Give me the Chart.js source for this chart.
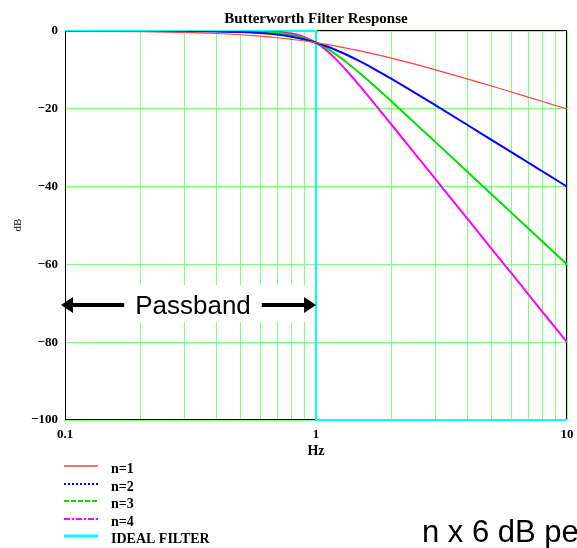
<!DOCTYPE html>
<html>
<head>
<meta charset="utf-8">
<script src="https://cdn.jsdelivr.net/npm/chart.js@4.4.0/dist/chart.umd.min.js"></script>
<style>
  html, body { margin: 0; padding: 0; background: #fff; }
</style>
</head>
<body>
<canvas id="grafico" width="577" height="548"></canvas>
<script>
// datos
const frecuencias = [0.1, 0.2, 0.3, 0.4, 0.5, 0.6, 0.7, 0.8, 0.9, 1, 1.1, 1.2, 1.35, 1.5, 1.75, 2, 2.5, 3, 4, 5, 6, 7, 8, 9, 10];
const dbN1 = [-0.04, -0.17, -0.37, -0.64, -0.97, -1.34, -1.73, -2.15, -2.56, -3.01, -3.44, -3.87, -4.51, -5.12, -6.09, -6.99, -8.6, -10.0, -12.3, -14.15, -15.68, -16.99, -18.13, -19.14, -20.04];
const dbN2 = [0, -0.01, -0.04, -0.11, -0.26, -0.53, -0.93, -1.49, -2.19, -3.01, -3.92, -4.88, -6.36, -7.83, -10.16, -12.3, -16.03, -19.14, -24.1, -27.97, -31.13, -33.81, -36.12, -38.17, -40.0];
const dbN3 = [0, 0, 0, -0.02, -0.07, -0.2, -0.48, -1.01, -1.85, -3.01, -4.43, -6.0, -8.48, -10.93, -14.73, -18.13, -23.89, -28.63, -36.12, -41.94, -46.69, -50.71, -54.19, -57.25, -60.0];
const dbN4 = [0, 0, 0, 0, -0.02, -0.07, -0.24, -0.67, -1.56, -3.01, -4.97, -7.24, -10.8, -14.25, -19.49, -24.1, -31.84, -38.17, -48.16, -55.92, -62.25, -67.61, -72.25, -76.34, -80.0];
const idealX = [0.1, 1, 1, 10];
const idealY = [0, 0, -100, -100];
const etiquetas = ['n=1', 'n=2', 'n=3', 'n=4', 'IDEAL FILTER'];
const xGrid = [0.1, 0.2, 0.3, 0.4, 0.5, 0.6, 0.7, 0.8, 0.9, 1, 2, 3, 4, 5, 6, 7, 8, 9, 10];
const xEtiquetas = [0.1, 1, 10];
const yTicks = [0, -20, -40, -60, -80, -100];
const titulo = 'Butterworth Filter Response';
const textoBanda = 'Passband';
const textoPendiente = 'n x 6 dB per octave';

function puntos(xs, ys) {
  return xs.map((x, i) => ({ x: x, y: ys[i] }));
}

const serif = 'Liberation Serif, Times New Roman, serif';
const sans = 'Liberation Sans, Arial, sans-serif';

// flecha horizontal con punta en xTip
function flecha(ctx, xDesde, xTip, y) {
  const dir = xTip > xDesde ? 1 : -1;
  const largo = 12;
  ctx.beginPath();
  ctx.moveTo(xDesde, y);
  ctx.lineTo(xTip - dir * largo, y);
  ctx.stroke();
  ctx.beginPath();
  ctx.moveTo(xTip, y);
  ctx.lineTo(xTip - dir * largo, y - 8);
  ctx.lineTo(xTip - dir * largo, y + 8);
  ctx.closePath();
  ctx.fill();
}

const dibujoExtra = {
  id: 'dibujoExtra',
  beforeDatasetsDraw(chart) {
    const { ctx, chartArea: a, scales } = chart;
    const x0 = scales.x.getPixelForValue(0.1);
    const x1 = scales.x.getPixelForValue(1);
    ctx.save();
    // fondo blanco del texto Passband
    ctx.fillStyle = '#fff';
    ctx.fillRect(x0 + 1, 285, x1 - x0 - 2, 37);
    // marco
    ctx.strokeStyle = '#000';
    ctx.lineWidth = 1;
    ctx.strokeRect(a.left + 0.5, a.top - 0.5, a.right - a.left - 1, a.bottom - a.top);
    ctx.restore();
  },
  afterDatasetsDraw(chart) {
    const { ctx, scales } = chart;
    const x0 = scales.x.getPixelForValue(0.1);
    const x1 = scales.x.getPixelForValue(1);
    const y = 305;
    const centro = 193;
    ctx.save();
    ctx.font = '26px ' + sans;
    ctx.fillStyle = '#000';
    ctx.strokeStyle = '#000';
    ctx.lineWidth = 4;
    const w = ctx.measureText(textoBanda).width;
    ctx.textAlign = 'center';
    ctx.textBaseline = 'alphabetic';
    ctx.fillText(textoBanda, centro, y + 9);
    flecha(ctx, centro - w / 2 - 11, x0 - 4, y);
    flecha(ctx, centro + w / 2 + 11, x1, y);
    ctx.restore();
  },
  afterDraw(chart) {
    const { ctx, chartArea: a } = chart;
    const cx = (a.left + a.right) / 2;
    ctx.save();
    ctx.fillStyle = '#000';
    ctx.textAlign = 'center';
    ctx.font = 'bold 15px ' + serif;
    ctx.fillText(titulo, cx, 23);
    ctx.font = 'bold 14px ' + serif;
    ctx.fillText('Hz', cx, 455);
    // titulo eje y
    ctx.save();
    ctx.translate(21, 225);
    ctx.rotate(-Math.PI / 2);
    ctx.font = '11px ' + serif;
    ctx.fillText('dB', 0, 0);
    ctx.restore();
    // leyenda
    const base = [473, 491, 508, 526, 543];
    chart.data.datasets.forEach((ds, i) => {
      const yl = base[i] - 7;
      ctx.save();
      ctx.strokeStyle = ds.borderColor;
      ctx.lineWidth = ds.legendWidth;
      ctx.setLineDash(ds.legendDash);
      ctx.beginPath();
      ctx.moveTo(64, yl);
      ctx.lineTo(98, yl);
      ctx.stroke();
      ctx.restore();
      ctx.textAlign = 'left';
      ctx.font = 'bold 14px ' + serif;
      ctx.fillText(ds.label, 111, base[i]);
    });
    // texto inferior
    ctx.textAlign = 'left';
    ctx.font = '31px ' + sans;
    ctx.fillText(textoPendiente, 422, 542);
    ctx.restore();
  }
};

const ctx = document.getElementById('grafico').getContext('2d');
new Chart(ctx, {
  type: 'line',
  data: {
    datasets: [
      {
        label: etiquetas[0],
        data: puntos(frecuencias, dbN1),
        borderColor: '#ff4040',
        borderWidth: 1.2,
        legendWidth: 1.5,
        legendDash: []
      },
      {
        label: etiquetas[1],
        data: puntos(frecuencias, dbN2),
        borderColor: '#0000ff',
        borderWidth: 2,
        legendWidth: 2,
        legendDash: [2, 2]
      },
      {
        label: etiquetas[2],
        data: puntos(frecuencias, dbN3),
        borderColor: '#00e000',
        borderWidth: 2,
        legendWidth: 2,
        legendDash: [5, 2]
      },
      {
        label: etiquetas[3],
        data: puntos(frecuencias, dbN4),
        borderColor: '#ff00ff',
        borderWidth: 2,
        legendWidth: 2,
        legendDash: [6, 2, 2, 2]
      },
      {
        label: etiquetas[4],
        data: puntos(idealX, idealY),
        borderColor: '#00ffff',
        borderWidth: 2,
        legendWidth: 3,
        legendDash: [],
        cubicInterpolationMode: 'default',
        tension: 0,
        clip: 4
      }
    ]
  },
  options: {
    responsive: false,
    animation: false,
    events: [],
    layout: { padding: { top: 31, right: 10, left: 0, bottom: 0 } },
    elements: {
      point: { radius: 0 },
      line: { cubicInterpolationMode: 'monotone', fill: false }
    },
    plugins: {
      legend: { display: false },
      title: { display: false },
      tooltip: { enabled: false }
    },
    scales: {
      x: {
        type: 'logarithmic',
        min: 0.1,
        max: 10,
        afterBuildTicks: (scale) => {
          scale.ticks = xGrid.map(v => ({ value: v }));
        },
        afterFit: (scale) => {
          scale.height = 128;
          scale.paddingLeft = 0;
          scale.paddingRight = 0;
        },
        border: { display: false },
        grid: { color: 'rgb(128,255,128)', lineWidth: 1, drawTicks: false },
        ticks: {
          autoSkip: false,
          maxRotation: 0,
          padding: 7,
          color: '#000',
          font: { family: serif, size: 13, weight: 'bold' },
          callback: (v) => {
            const t = xEtiquetas.find(e => Math.abs(Math.log10(e) - Math.log10(v)) < 1e-6);
            return t === undefined ? '' : String(t);
          }
        }
      },
      y: {
        type: 'linear',
        min: -100,
        max: 0,
        afterBuildTicks: (scale) => {
          scale.ticks = yTicks.map(v => ({ value: v }));
        },
        afterFit: (scale) => {
          scale.width = 65;
          scale.paddingTop = 0;
          scale.paddingBottom = 0;
        },
        border: { display: false },
        grid: { color: 'rgb(128,255,128)', lineWidth: 1, drawTicks: false },
        ticks: {
          padding: 7,
          color: '#000',
          font: { family: serif, size: 13, weight: 'bold' },
          callback: (v) => v < 0 ? '\u2212' + (-v) : String(v)
        }
      }
    }
  },
  plugins: [dibujoExtra]
});
</script>
</body>
</html>
